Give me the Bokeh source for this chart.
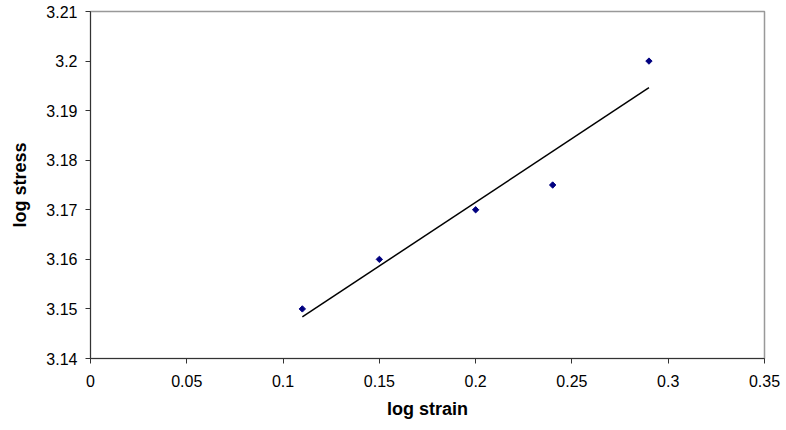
from bokeh.plotting import figure
from bokeh.models import Range1d, FixedTicker
from bokeh.embed import file_html
from bokeh.resources import INLINE
import numpy as np

# Data
log_strain = [0.11, 0.15, 0.2, 0.24, 0.29]
log_stress = [3.15, 3.16, 3.17, 3.175, 3.2]
x_ticks = [0, 0.05, 0.1, 0.15, 0.2, 0.25, 0.3, 0.35]
x_tick_labels = ["0", "0.05", "0.1", "0.15", "0.2", "0.25", "0.3", "0.35"]
y_ticks = [3.14, 3.15, 3.16, 3.17, 3.18, 3.19, 3.2, 3.21]
y_tick_labels = ["3.14", "3.15", "3.16", "3.17", "3.18", "3.19", "3.2", "3.21"]

# Linear trendline (least squares)
xa = np.array(log_strain)
ya = np.array(log_stress)
slope, intercept = np.polyfit(xa, ya, 1)
trend_x = [min(log_strain), max(log_strain)]
trend_y = [slope * v + intercept for v in trend_x]

FONT = "Liberation Sans"

p = figure(width=786, height=430, output_backend="svg", toolbar_location=None,
           x_range=Range1d(0, 0.35), y_range=Range1d(3.14, 3.21),
           min_border_left=90, min_border_right=22, min_border_top=11, min_border_bottom=72)

p.xgrid.visible = False
p.ygrid.visible = False
p.outline_line_color = "#999999"
p.outline_line_width = 1.5
p.background_fill_color = "white"
p.border_fill_color = "white"

p.line(trend_x, trend_y, line_color="black", line_width=1.5)
p.scatter(log_strain, log_stress, marker="square", angle=np.pi / 4, size=4.5,
          fill_color="#000080", line_color="#000080")

for ax, ticks, labels in ((p.xaxis[0], x_ticks, x_tick_labels), (p.yaxis[0], y_ticks, y_tick_labels)):
    ax.ticker = FixedTicker(ticks=ticks)
    ax.major_label_overrides = {t: l for t, l in zip(ticks, labels)}
    ax.minor_tick_line_color = None
    ax.major_tick_in = 0
    ax.major_tick_out = 5
    ax.axis_line_color = "#333333"
    ax.major_tick_line_color = "#333333"
    ax.major_label_text_font = FONT
    ax.major_label_text_font_size = "16px"
    ax.major_label_text_color = "black"
    ax.axis_label_text_font = FONT
    ax.axis_label_text_font_size = "18px"
    ax.axis_label_text_font_style = "bold"
    ax.axis_label_text_color = "black"

p.xaxis.axis_label = "log strain"
p.yaxis.axis_label = "log stress"
p.xaxis.major_label_standoff = 11
p.yaxis.major_label_standoff = 8
p.xaxis.axis_label_standoff = 9
p.yaxis.axis_label_standoff = 13

open("out.html", "w").write(file_html(p, INLINE))
